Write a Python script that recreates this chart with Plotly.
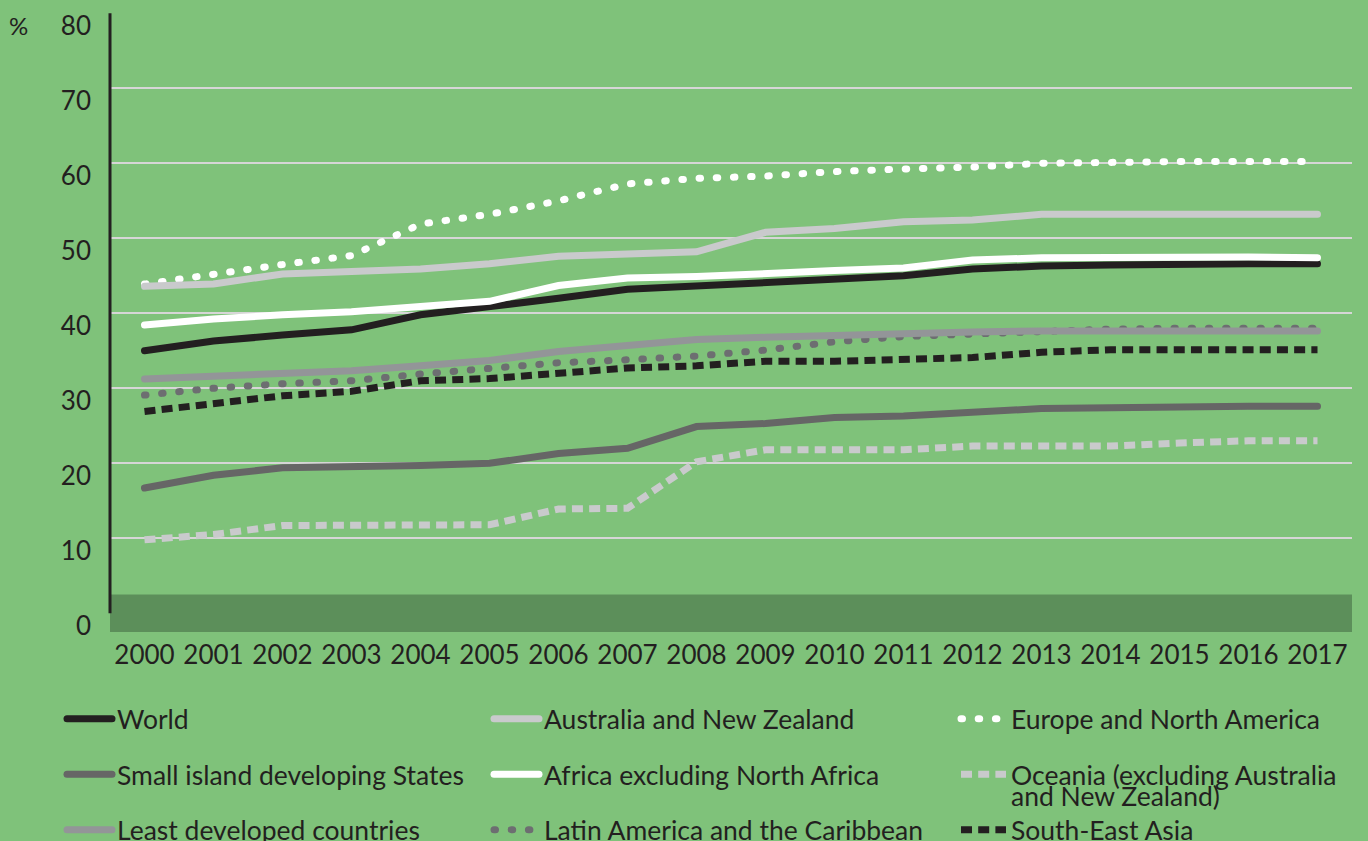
import plotly.graph_objects as go

years = list(range(2000, 2018))
y_ticks = [0, 10, 20, 30, 40, 50, 60, 70, 80]

world = [35.0, 36.3, 37.1, 37.8, 39.8, 40.8, 42.0, 43.2, 43.7, 44.1, 44.6, 45.0, 45.9, 46.3, 46.45, 46.6, 46.6, 46.6]
sids = [16.7, 18.4, 19.4, 19.5, 19.7, 20.0, 21.3, 22.0, 24.9, 25.3, 26.1, 26.3, 26.8, 27.3, 27.4, 27.6, 27.6, 27.6]
ldc = [31.25, 31.6, 31.9, 32.35, 33.0, 33.7, 34.9, 35.7, 36.5, 36.8, 37.1, 37.35, 37.5, 37.65, 37.65, 37.65, 37.65, 37.65]
aus_nz = [43.6, 43.9, 45.25, 45.6, 45.9, 46.6, 47.6, 47.9, 48.2, 50.8, 51.3, 52.2, 52.45, 53.2, 53.2, 53.2, 53.2, 53.2]
africa = [38.45, 39.25, 39.8, 40.2, 40.9, 41.6, 43.7, 44.7, 44.9, 45.4, 45.7, 46.05, 47.1, 47.4, 47.5, 47.5, 47.5, 47.4]
latin = [29.1, 30.0, 30.6, 31.0, 31.9, 32.7, 33.4, 33.8, 34.3, 35.1, 36.2, 36.9, 37.25, 37.7, 37.9, 38.0, 38.0, 38.0]
europe = [43.9, 45.3, 46.5, 47.7, 51.9, 53.2, 55.0, 57.25, 58.0, 58.3, 58.9, 59.25, 59.5, 60.0, 60.2, 60.25, 60.25, 60.25]
oceania = [9.8, 10.5, 11.7, 11.8, 11.8, 11.8, 13.9, 14.0, 20.2, 21.8, 21.8, 21.8, 22.3, 22.3, 22.3, 22.7, 23.0, 23.0]
se_asia = [26.9, 28.0, 29.0, 29.6, 31.0, 31.3, 31.9, 32.7, 33.0, 33.6, 33.6, 33.8, 34.1, 34.8, 35.15, 35.15, 35.15, 35.15]

TEXT = "#231f20"
BG = "#7fc27a"
BAND = "#5c8f5a"
GRID = "#d6d6d6"
FONT = "Lato"

# (name, values, color, dash, legend, rank) in drawing order
series = [
    ("Europe and North America", europe, "#ffffff", "1.5px,15.7px", "legend3", 1),
    ("Latin America and the Caribbean", latin, "#6d6e71", "1.5px,15.7px", "legend2", 3),
    ("South-East Asia", se_asia, TEXT, "11px,6.2px", "legend4", 1),
    ("Oceania (excluding Australia<br>and New Zealand)", oceania, "#c9cacc", "11px,6.2px", "legend3", 2),
    ("Small island developing States", sids, "#666666", "solid", "legend", 2),
    ("Least developed countries", ldc, "#939598", "solid", "legend", 3),
    ("World", world, TEXT, "solid", "legend", 1),
    ("Africa excluding North Africa", africa, "#ffffff", "solid", "legend2", 2),
    ("Australia and New Zealand", aus_nz, "#c9cacc", "solid", "legend2", 1),
]

fig = go.Figure()
for i, (name, vals, color, dash, leg, rank) in enumerate(series):
    fig.add_trace(go.Scatter(
        x=years, y=vals, name=name, mode="lines",
        line=dict(color=color, width=7, dash=dash),
        legend=leg, legendrank=rank, legendgroup="g%d" % i,
        hoverinfo="skip",
    ))

# dark band at bottom of plot (covers the zero gridline)
fig.add_shape(type="rect", xref="x domain", yref="y", x0=0, x1=1, y0=-2.5, y1=2.5,
              fillcolor=BAND, line=dict(width=0), layer="above")
# vertical axis line from 0 to 80
fig.add_shape(type="line", xref="x domain", yref="y", x0=0, x1=0, y0=0, y1=80,
              line=dict(color=TEXT, width=3), layer="above")

fig.add_annotation(text="%", xref="paper", yref="y", x=-0.074, y=80, xanchor="center",
                   yanchor="middle", yshift=-12, showarrow=False,
                   font=dict(family=FONT, size=24, color=TEXT))

leg_common = dict(font=dict(family=FONT, size=26.5, color=TEXT), bgcolor="rgba(0,0,0,0)",
                  orientation="v", xref="container", yref="container",
                  xanchor="left", yanchor="top", itemwidth=45, tracegroupgap=18,
                  valign="top")

L1 = 62
fig.update_layout(
    width=1368, height=841,
    margin=dict(l=110, r=16, t=13, b=209, autoexpand=False),
    paper_bgcolor=BG, plot_bgcolor=BG,
    font=dict(family=FONT, size=26, color=TEXT),
    showlegend=True,
    legend=dict(leg_common, x=L1 / 1368, y=1 - 695 / 841),
    legend2=dict(leg_common, x=(L1 + 427) / 1368, y=1 - 695 / 841),
    legend3=dict(leg_common, x=(L1 + 894) / 1368, y=1 - 695 / 841),
    legend4=dict(leg_common, x=(L1 + 894) / 1368, y=1 - 806 / 841),
    xaxis=dict(range=[1999.5, 2017.5], tickmode="array", tickvals=years,
               ticktext=[str(y) for y in years], showgrid=False, zeroline=False,
               showline=False, ticks="", ticklabelstandoff=5,
               tickfont=dict(family=FONT, size=26, color=TEXT)),
    yaxis=dict(range=[-2.5, 80.05], tickmode="array", tickvals=y_ticks,
               ticktext=[str(v) for v in y_ticks], showgrid=True, gridcolor=GRID,
               gridwidth=2, zeroline=False, showline=False, ticks="",
               ticklabelshift=13, ticklabelstandoff=18,
               tickfont=dict(family=FONT, size=26, color=TEXT)),
)

post = """
document.body.style.margin = '0';
var gd = document.getElementById('{plot_id}');
function fixStyle(){
  document.querySelectorAll('path.js-line').forEach(function(p){
    var d = p.style.strokeDasharray || '';
    if(d === '' || d === 'none' || d.indexOf('1.5') === 0){
      if(p.style.strokeLinecap !== 'round'){ p.style.strokeLinecap = 'round'; }
    }
  });
  document.querySelectorAll('text').forEach(function(t){
    if((t.textContent || '').indexOf('Oceania') < 0) return;
    var ts = t.getElementsByTagName('tspan');
    for(var k = 0; k < ts.length; k++){
      var dy = ts[k].getAttribute('dy');
      if(dy && parseFloat(dy) > 1){ ts[k].setAttribute('dy', '0.8em'); }
    }
  });
}
fixStyle();
if(gd && gd.on){ gd.on('plotly_afterplot', fixStyle); }
new MutationObserver(function(){ fixStyle(); }).observe(document.body, {childList: true, subtree: true});
[50, 200, 500, 1000, 2000].forEach(function(ms){ setTimeout(fixStyle, ms); });
"""

fig.write_html("out.html", post_script=post, config={"displayModeBar": False})
